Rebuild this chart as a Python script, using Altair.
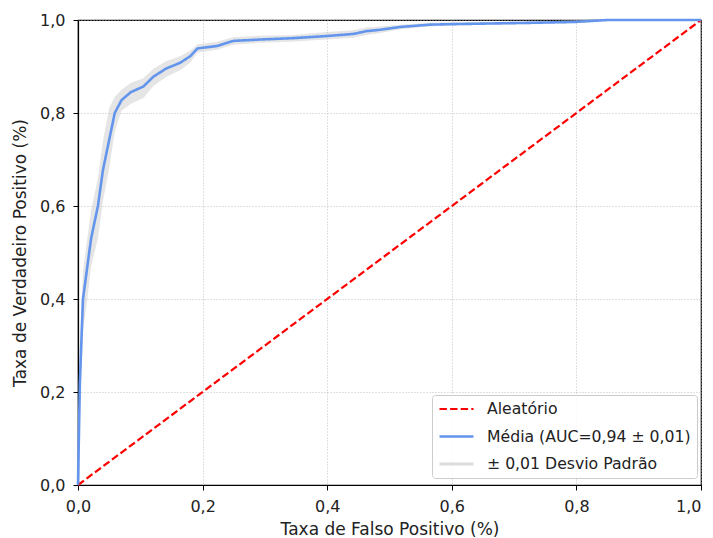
import altair as alt
import pandas as pd

# Mean ROC curve
fpr = [0, 0.003, 0.008, 0.015, 0.021, 0.032, 0.040, 0.050, 0.059, 0.070, 0.085, 0.105,
       0.121, 0.142, 0.164, 0.180, 0.192, 0.223, 0.249, 0.292, 0.346, 0.399, 0.442,
       0.463, 0.485, 0.517, 0.565, 0.597, 0.730, 0.800, 0.850, 1.0]
tpr = [0, 0.22, 0.40, 0.47, 0.53, 0.60, 0.677, 0.742, 0.800, 0.828, 0.845, 0.857,
       0.878, 0.896, 0.908, 0.922, 0.939, 0.944, 0.955, 0.958, 0.961, 0.9655, 0.970,
       0.976, 0.979, 0.985, 0.990, 0.991, 0.994, 0.996, 1.0, 1.0]
tpr_upper = [0, 0.30, 0.46, 0.53, 0.59, 0.66, 0.74, 0.81, 0.835, 0.85, 0.865, 0.875,
             0.895, 0.912, 0.922, 0.934, 0.948, 0.953, 0.963, 0.966, 0.968, 0.974, 0.978,
             0.984, 0.986, 0.990, 0.994, 0.995, 0.997, 0.999, 1.0, 1.0]
tpr_lower = [0, 0.15, 0.33, 0.40, 0.47, 0.53, 0.61, 0.68, 0.76, 0.805, 0.82, 0.832,
             0.858, 0.878, 0.892, 0.908, 0.930, 0.936, 0.947, 0.951, 0.954, 0.958, 0.962,
             0.968, 0.972, 0.980, 0.986, 0.988, 0.991, 0.993, 1.0, 1.0]

# Chance diagonal
rand_x = [0.0, 1.0]
rand_y = [0.0, 1.0]

series_names = ["Aleatório", "Média (AUC=0,94 ± 0,01)", "± 0,01 Desvio Padrão"]
series_colors = ["#ff0000", "#6495ed", "#dcdcdc"]
series_dash = [[7.4, 3.2], [1, 0], [1, 0]]
series_width = [2.2, 3, 12]

tick_values = [0.0, 0.2, 0.4, 0.6, 0.8, 1.0]

lines_df = pd.DataFrame(
    {"fpr": rand_x + fpr,
     "tpr": rand_y + tpr,
     "series": [series_names[0]] * len(rand_x) + [series_names[1]] * len(fpr)}
)
band_df = pd.DataFrame({"fpr": fpr, "lo": tpr_lower, "hi": tpr_upper})

label_expr = "replace(format(datum.value, '.1f'), '.', ',')"
xscale = alt.Scale(domain=[0, 1], nice=False)
yscale = alt.Scale(domain=[0, 1], nice=False)

x_axis = alt.Axis(
    title="Taxa de Falso Positivo (%)",
    values=tick_values,
    labelExpr=label_expr,
    labelAlign=alt.ExprRef(expr="datum.value >= 1 ? 'right' : 'center'"),
)
y_axis = alt.Axis(title="Taxa de Verdadeiro Positivo (%)", values=tick_values, labelExpr=label_expr)

width_expr = (
    f"datum.value === '{series_names[0]}' ? {series_width[0]} : "
    f"(datum.value === '{series_names[1]}' ? {series_width[1]} : {series_width[2]})"
)

leg = alt.Legend(
    title=None,
    orient="none",
    legendX=354,
    legendY=375,
    symbolType="stroke",
    symbolSize=1156,
    symbolStrokeWidth=alt.ExprRef(expr=width_expr),
    symbolOffset=0,
    clipHeight=16,
    labelFontSize=15.7,
    labelFont="DejaVu Sans",
    labelColor="#222222",
    labelLimit=400,
    rowPadding=11.5,
    padding=6,
    strokeColor="#cccccc",
    fillColor="rgba(255,255,255,0.85)",
    cornerRadius=3,
    labelOffset=12,
)

band = alt.Chart(band_df).mark_area(color="#d3d3d3", opacity=0.6).encode(
    x=alt.X("fpr:Q", scale=xscale, axis=x_axis),
    y=alt.Y("lo:Q", scale=yscale, axis=y_axis),
    y2="hi:Q",
)

lines = alt.Chart(lines_df).mark_line().encode(
    x=alt.X("fpr:Q", scale=xscale, axis=x_axis),
    y=alt.Y("tpr:Q", scale=yscale, axis=y_axis),
    color=alt.Color("series:N", scale=alt.Scale(domain=series_names, range=series_colors), legend=leg),
    strokeDash=alt.StrokeDash("series:N", scale=alt.Scale(domain=series_names, range=series_dash), legend=leg),
    strokeWidth=alt.StrokeWidth("series:N", scale=alt.Scale(domain=series_names, range=series_width), legend=None),
)

chart = (
    alt.layer(band, lines)
    .properties(
        width=623,
        height=465,
        autosize=alt.AutoSizeParams(type="none"),
        padding={"left": 70, "top": 12, "right": 4, "bottom": 55},
    )
    .configure(font="DejaVu Sans")
    .configure_view(stroke="black", strokeWidth=1.2)
    .configure_axis(
        grid=True,
        gridColor="#b0b0b0",
        gridDash=[1, 2],
        gridWidth=0.8,
        domainColor="black",
        domainWidth=1.2,
        tickColor="black",
        tickSize=5,
        tickWidth=1,
        labelFontSize=16,
        labelColor="#222222",
        labelPadding=8,
        titleFontSize=17,
        titleFontWeight="normal",
        titleColor="#222222",
        labelFlush=False,
    )
    .configure_axisX(titlePadding=7)
    .configure_axisY(titlePadding=10)
)

chart.save("out.html", embed_options={"renderer": "svg", "actions": False})
